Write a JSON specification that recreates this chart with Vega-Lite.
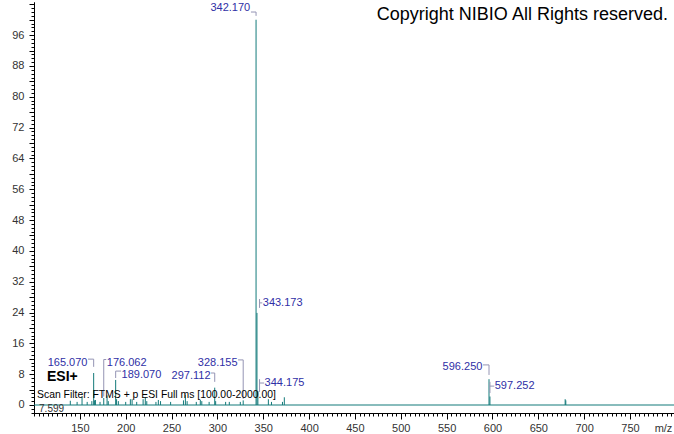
{
  "$schema": "https://vega.github.io/schema/vega-lite/v6.json",
  "width": 640,
  "height": 411,
  "autosize": {"type": "none"},
  "padding": {"left": 34, "top": 2, "right": 0, "bottom": 21},
  "background": "white",
  "config": {
    "view": {"stroke": null},
    "font": "Liberation Sans",
    "axis": {"grid": false, "domainColor": "#000", "tickColor": "#000", "labelFont": "Liberation Sans", "labelFontSize": 11, "labelColor": "#333", "domainWidth": 1, "tickWidth": 1}
  },
  "datasets": {
    "one": [{}],
    "peaks": [
      {"mz": 139.6, "intensity": 1.1}, {"mz": 147.0, "intensity": 0.8}, {"mz": 152.4, "intensity": 2.2},
      {"mz": 158.0, "intensity": 0.8}, {"mz": 163.1, "intensity": 1.0}, {"mz": 165.07, "intensity": 8.3},
      {"mz": 166.07, "intensity": 1.2}, {"mz": 167.0, "intensity": 1.3}, {"mz": 172.0, "intensity": 0.8},
      {"mz": 176.06, "intensity": 1.8}, {"mz": 179.7, "intensity": 2.5}, {"mz": 181.0, "intensity": 1.0},
      {"mz": 189.07, "intensity": 6.5}, {"mz": 190.07, "intensity": 1.5}, {"mz": 192.0, "intensity": 1.0},
      {"mz": 200.0, "intensity": 0.8}, {"mz": 205.1, "intensity": 1.5}, {"mz": 207.0, "intensity": 1.5},
      {"mz": 212.0, "intensity": 0.8}, {"mz": 219.0, "intensity": 1.5}, {"mz": 221.4, "intensity": 2.0},
      {"mz": 223.0, "intensity": 1.0}, {"mz": 233.0, "intensity": 0.8}, {"mz": 235.6, "intensity": 1.3},
      {"mz": 238.0, "intensity": 1.0}, {"mz": 249.0, "intensity": 0.8}, {"mz": 263.0, "intensity": 1.2},
      {"mz": 265.1, "intensity": 2.7}, {"mz": 267.0, "intensity": 1.0}, {"mz": 277.0, "intensity": 0.8},
      {"mz": 281.4, "intensity": 1.3}, {"mz": 283.0, "intensity": 1.0}, {"mz": 291.0, "intensity": 0.8},
      {"mz": 297.11, "intensity": 4.5}, {"mz": 298.11, "intensity": 1.0}, {"mz": 309.0, "intensity": 0.8},
      {"mz": 313.0, "intensity": 0.8}, {"mz": 325.0, "intensity": 0.8}, {"mz": 328.16, "intensity": 1.2},
      {"mz": 342.17, "intensity": 100}, {"mz": 343.17, "intensity": 23.9}, {"mz": 344.18, "intensity": 3.6},
      {"mz": 355.6, "intensity": 1.5}, {"mz": 359.0, "intensity": 0.8}, {"mz": 371.0, "intensity": 0.8},
      {"mz": 373.0, "intensity": 2.0}, {"mz": 596.25, "intensity": 6.7}, {"mz": 597.25, "intensity": 2.2},
      {"mz": 679.3, "intensity": 1.5}, {"mz": 680.0, "intensity": 1.2}
    ],
    "labels": [
      {"label": "342.170", "side": "left", "tx": 335.8, "ty": 103.0},
      {"label": "165.070", "side": "left", "tx": 158.3, "ty": 10.9},
      {"label": "176.062", "side": "right", "tx": 179.4, "ty": 11.0},
      {"label": "189.070", "side": "right", "tx": 195.5, "ty": 7.9},
      {"label": "297.112", "side": "left", "tx": 292.5, "ty": 7.5},
      {"label": "328.155", "side": "left", "tx": 322.0, "ty": 10.9},
      {"label": "343.173", "side": "right", "tx": 349.5, "ty": 26.5},
      {"label": "344.175", "side": "right", "tx": 351.5, "ty": 5.7},
      {"label": "596.250", "side": "left", "tx": 589.0, "ty": 9.9},
      {"label": "597.252", "side": "right", "tx": 602.5, "ty": 4.9}
    ],
    "links": [
      {"x1": 336.6, "x2": 342.17, "y1": 102.0, "y2": 102.0}, {"x1": 342.17, "x2": 342.17, "y1": 102.0, "y2": 101.0},
      {"x1": 158.9, "x2": 165.07, "y1": 11.9, "y2": 11.9}, {"x1": 165.07, "x2": 165.07, "y1": 11.9, "y2": 9.9},
      {"x1": 176.06, "x2": 178.8, "y1": 11.8, "y2": 11.8}, {"x1": 176.06, "x2": 176.06, "y1": 11.8, "y2": 2.2},
      {"x1": 189.07, "x2": 195.0, "y1": 8.8, "y2": 8.8}, {"x1": 189.07, "x2": 189.07, "y1": 8.8, "y2": 7.0},
      {"x1": 293.0, "x2": 297.11, "y1": 8.3, "y2": 8.3}, {"x1": 297.11, "x2": 297.11, "y1": 8.3, "y2": 6.0},
      {"x1": 322.5, "x2": 328.16, "y1": 11.7, "y2": 11.7}, {"x1": 328.16, "x2": 328.16, "y1": 11.7, "y2": 1.6},
      {"x1": 346.0, "x2": 346.0, "y1": 27.5, "y2": 25.2}, {"x1": 346.0, "x2": 349.0, "y1": 26.5, "y2": 26.5},
      {"x1": 346.0, "x2": 346.0, "y1": 6.7, "y2": 3.4}, {"x1": 346.0, "x2": 351.0, "y1": 5.7, "y2": 5.7},
      {"x1": 589.6, "x2": 596.25, "y1": 10.4, "y2": 10.4}, {"x1": 596.25, "x2": 596.25, "y1": 10.4, "y2": 7.8},
      {"x1": 597.25, "x2": 597.25, "y1": 6.0, "y2": 3.1}, {"x1": 597.25, "x2": 602.0, "y1": 4.9, "y2": 4.9}
    ]
  },
  "layer": [
    {
      "data": {"name": "one"},
      "mark": {"type": "rule", "color": "#137a7a", "strokeWidth": 1.2},
      "encoding": {
        "x": {"datum": 100, "type": "quantitative", "scale": {"domain": [100, 798], "nice": false, "zero": false},
              "axis": {"orient": "bottom", "tickCount": 140, "tickSize": 3, "labels": false, "title": null}},
        "x2": {"datum": 798},
        "y": {"datum": 0, "type": "quantitative", "scale": {"domain": [-2.08, 104.6], "nice": false, "zero": false},
              "axis": {"orient": "left", "tickCount": 107, "tickSize": 3, "labels": false, "title": null}}
      }
    },
    {
      "data": {"name": "peaks"},
      "mark": {"type": "rule", "color": "#137a7a", "strokeWidth": 1},
      "encoding": {
        "x": {"field": "mz", "type": "quantitative", "scale": {"domain": [100, 798], "nice": false, "zero": false},
              "axis": {"orient": "bottom", "values": [150, 200, 250, 300, 350, 400, 450, 500, 550, 600, 650, 700, 750],
                       "tickSize": 6, "labelPadding": 3, "title": "m/z", "titleX": 629, "titleY": 15, "titleBaseline": "middle",
                       "titleAlign": "center", "titleFontWeight": "normal", "titleFontSize": 11, "titleFont": "Liberation Sans", "titleColor": "#333"}},
        "y": {"field": "intensity", "type": "quantitative", "scale": {"domain": [-2.08, 104.6], "nice": false, "zero": false},
              "axis": {"orient": "left", "values": [0, 4, 8, 12, 16, 20, 24, 28, 32, 36, 40, 44, 48, 52, 56, 60, 64, 68, 72, 76, 80, 84, 88, 92, 96, 100, 104],
                       "tickSize": 5, "labelPadding": 5, "labelExpr": "datum.value % 8 === 0 && datum.value <= 96 ? datum.label : ''", "title": null}},
        "y2": {"datum": 0}
      }
    },
    {
      "data": {"name": "links"},
      "mark": {"type": "rule", "color": "#9494b4", "strokeWidth": 1},
      "encoding": {
        "x": {"field": "x1", "type": "quantitative", "axis": null},
        "x2": {"field": "x2"},
        "y": {"field": "y1", "type": "quantitative", "axis": null},
        "y2": {"field": "y2"}
      }
    },
    {
      "data": {"name": "labels"},
      "transform": [{"filter": "datum.side === 'left'"}],
      "mark": {"type": "text", "align": "right", "baseline": "middle", "fontSize": 11, "color": "#2f2fa6", "font": "Liberation Sans"},
      "encoding": {
        "x": {"field": "tx", "type": "quantitative", "axis": null},
        "y": {"field": "ty", "type": "quantitative", "axis": null},
        "text": {"field": "label"}
      }
    },
    {
      "data": {"name": "labels"},
      "transform": [{"filter": "datum.side === 'right'"}],
      "mark": {"type": "text", "align": "left", "baseline": "middle", "fontSize": 11, "color": "#2f2fa6", "font": "Liberation Sans"},
      "encoding": {
        "x": {"field": "tx", "type": "quantitative", "axis": null},
        "y": {"field": "ty", "type": "quantitative", "axis": null},
        "text": {"field": "label"}
      }
    },
    {
      "data": {"name": "one"},
      "mark": {"type": "text", "align": "left", "baseline": "middle", "fontSize": 14, "fontWeight": "bold", "color": "#000", "text": "ESI+"},
      "encoding": {
        "x": {"datum": 114.2, "type": "quantitative", "axis": null},
        "y": {"datum": 7.3, "type": "quantitative", "axis": null}
      }
    },
    {
      "data": {"name": "one"},
      "mark": {"type": "text", "align": "left", "baseline": "middle", "fontSize": 10.4, "color": "#000", "text": "Scan Filter: FTMS + p ESI Full ms [100.00-2000.00]"},
      "encoding": {
        "x": {"datum": 103.3, "type": "quantitative", "axis": null},
        "y": {"datum": 2.6, "type": "quantitative", "axis": null}
      }
    },
    {
      "data": {"name": "one"},
      "mark": {"type": "text", "align": "left", "baseline": "middle", "fontSize": 10, "color": "#333", "text": "7.599"},
      "encoding": {
        "x": {"datum": 105.5, "type": "quantitative", "axis": null},
        "y": {"datum": -1.0, "type": "quantitative", "axis": null}
      }
    },
    {
      "data": {"name": "one"},
      "mark": {"type": "text", "align": "right", "baseline": "middle", "fontSize": 18, "color": "#000", "text": "Copyright NIBIO All Rights reserved."},
      "encoding": {
        "x": {"datum": 791.4, "type": "quantitative", "axis": null},
        "y": {"datum": 101.3, "type": "quantitative", "axis": null}
      }
    }
  ],
  "resolve": {"axis": {"x": "independent", "y": "independent"}}
}
